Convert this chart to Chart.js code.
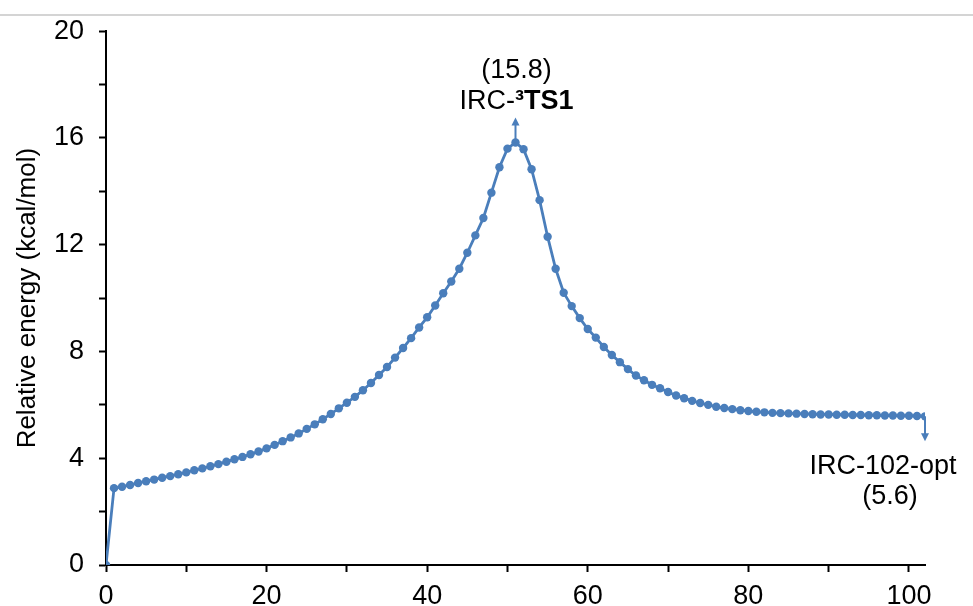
<!DOCTYPE html>
<html>
<head>
<meta charset="utf-8">
<title>IRC energy profile</title>
<script src="https://cdn.jsdelivr.net/npm/chart.js@4/dist/chart.umd.min.js"></script>
<style>
    html, body { margin: 0; padding: 0; background: #ffffff; }
    #wrap { position: relative; width: 973px; height: 606px; }
    #topRule { position: absolute; left: 0; top: 14px; width: 973px; height: 2px; background: #d4d4d4; }
    #chart { position: absolute; left: 0; top: 0; }
</style>
</head>
<body>
<div id="wrap">
    <div id="topRule"></div>
    <canvas id="chart" width="973" height="606"></canvas>
</div>
<script>
/*global Chart*/
(function () {
    "use strict";

    // IRC step number
    var steps = [];
    var i;
    for (i = 0; i <= 102; i += 1) {
        steps.push(i);
    }

    // relative energy (kcal/mol)
    var energy = [
        0.00, 2.88, 2.93, 3.00, 3.07, 3.14, 3.20, 3.27, 3.33, 3.40,
        3.47, 3.55, 3.62, 3.70, 3.78, 3.87, 3.96, 4.05, 4.15, 4.25,
        4.37, 4.50, 4.64, 4.78, 4.93, 5.10, 5.27, 5.46, 5.66, 5.87,
        6.08, 6.30, 6.55, 6.82, 7.12, 7.42, 7.77, 8.13, 8.50, 8.90,
        9.28, 9.72, 10.18, 10.62, 11.10, 11.70, 12.35, 13.00, 13.95, 14.90,
        15.60, 15.83, 15.58, 14.83, 13.67, 12.30, 11.10, 10.20, 9.70, 9.25,
        8.84, 8.52, 8.17, 7.87, 7.60, 7.34, 7.10, 6.92, 6.75, 6.62,
        6.48, 6.35, 6.25, 6.15, 6.07, 6.00, 5.93, 5.88, 5.84, 5.80,
        5.77, 5.74, 5.72, 5.70, 5.69, 5.68, 5.67, 5.66, 5.65, 5.64,
        5.64, 5.63, 5.63, 5.62, 5.62, 5.61, 5.61, 5.60, 5.60, 5.59,
        5.59, 5.58, 5.57
    ];

    var xTicks = [0, 10, 20, 30, 40, 50, 60, 70, 80, 90, 100];
    var xLabels = [0, 20, 40, 60, 80, 100];
    var yTicks = [0, 2, 4, 6, 8, 10, 12, 14, 16, 18, 20];
    var yLabels = [0, 4, 8, 12, 16, 20];

    var TS_STEP = 51;
    var END_STEP = 102;

    var BLUE = "#4a7ebb";
    var FONT = "'Liberation Sans', Arial, sans-serif";
    var FONT_SIZE = 27;

    var drawArrow = function (ctx, x, y0, y1) {
        var dir = y1 < y0 ? -1 : 1;
        ctx.beginPath();
        ctx.moveTo(x, y0);
        ctx.lineTo(x, y1 - dir * 6);
        ctx.stroke();
        ctx.beginPath();
        ctx.moveTo(x, y1);
        ctx.lineTo(x - 4, y1 - dir * 8);
        ctx.lineTo(x + 4, y1 - dir * 8);
        ctx.closePath();
        ctx.fill();
    };

    var labelsPlugin = {
        id: "ircLabels",
        afterDatasetsDraw: function (chart) {
            var ctx = chart.ctx,
                xs = chart.scales.x,
                ys = chart.scales.y,
                tsX = xs.getPixelForValue(TS_STEP),
                tsY = ys.getPixelForValue(energy[TS_STEP]),
                endX = xs.getPixelForValue(END_STEP),
                endY = ys.getPixelForValue(energy[END_STEP]),
                normal = FONT_SIZE + "px " + FONT,
                bold = "bold " + FONT_SIZE + "px " + FONT,
                w1, w2, left;

            ctx.save();
            ctx.strokeStyle = BLUE;
            ctx.fillStyle = BLUE;
            ctx.lineWidth = 2;
            drawArrow(ctx, tsX, tsY, tsY - 25);
            drawArrow(ctx, endX, endY, endY + 25);

            ctx.fillStyle = "#000000";
            ctx.textBaseline = "middle";
            ctx.textAlign = "center";
            ctx.font = normal;
            ctx.fillText("(15.8)", tsX + 1, 71);

            // IRC-³TS1 with the bold part measured separately
            w1 = ctx.measureText("IRC-").width;
            ctx.font = bold;
            w2 = ctx.measureText("³TS1").width;
            left = tsX + 1 - (w1 + w2) / 2;
            ctx.textAlign = "left";
            ctx.font = normal;
            ctx.fillText("IRC-", left, 102);
            ctx.font = bold;
            ctx.fillText("³TS1", left + w1, 102);

            ctx.textAlign = "center";
            ctx.font = normal;
            ctx.fillText("IRC-102-opt", 883, 467);
            ctx.fillText("(5.6)", 890, 497);
            ctx.restore();
        }
    };

    var ctx = window.document.getElementById("chart");
    var chart = new Chart(ctx, {
        type: "line",
        data: {
            labels: steps,
            datasets: [{
                data: energy,
                borderColor: BLUE,
                backgroundColor: BLUE,
                borderWidth: 2.8,
                pointRadius: 4.2,
                pointBorderWidth: 0,
                pointBackgroundColor: BLUE,
                tension: 0,
                fill: false
            }]
        },
        options: {
            responsive: false,
            animation: false,
            events: [],
            layout: {
                padding: { top: 31, right: 48, left: 0, bottom: 0 }
            },
            plugins: {
                legend: { display: false },
                tooltip: { enabled: false }
            },
            scales: {
                x: {
                    type: "linear",
                    min: 0,
                    max: 102,
                    afterBuildTicks: function (scale) {
                        scale.ticks = xTicks.map(function (v) { return { value: v }; });
                    },
                    afterFit: function (scale) {
                        scale.height = 41;
                    },
                    border: { display: true, color: "#000000", width: 2 },
                    grid: {
                        drawOnChartArea: false,
                        drawTicks: true,
                        tickLength: 7,
                        tickWidth: 2,
                        tickColor: "#000000"
                    },
                    ticks: {
                        color: "#000000",
                        padding: 8,
                        maxRotation: 0,
                        autoSkip: false,
                        font: { family: FONT, size: FONT_SIZE },
                        callback: function (value) {
                            return xLabels.indexOf(value) >= 0 ? String(value) : "";
                        }
                    }
                },
                y: {
                    min: 0,
                    max: 20,
                    afterBuildTicks: function (scale) {
                        scale.ticks = yTicks.map(function (v) { return { value: v }; });
                    },
                    afterFit: function (scale) {
                        scale.width = 106;
                    },
                    border: { display: true, color: "#000000", width: 2 },
                    grid: {
                        drawOnChartArea: false,
                        drawTicks: true,
                        tickLength: 7,
                        tickWidth: 2,
                        tickColor: "#000000"
                    },
                    title: {
                        display: true,
                        text: "Relative energy (kcal/mol)",
                        color: "#000000",
                        font: { family: FONT, size: 26 },
                        padding: { top: 12, bottom: 0 }
                    },
                    ticks: {
                        color: "#000000",
                        padding: 15,
                        autoSkip: false,
                        font: { family: FONT, size: FONT_SIZE },
                        callback: function (value) {
                            return yLabels.indexOf(value) >= 0 ? String(value) : "";
                        }
                    }
                }
            }
        },
        plugins: [labelsPlugin]
    });

    window.chart = chart;
}());
</script>
</body>
</html>
